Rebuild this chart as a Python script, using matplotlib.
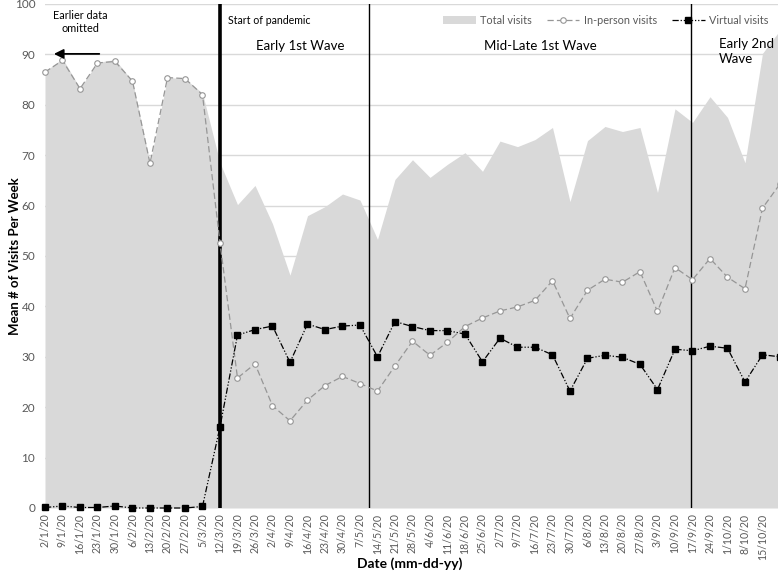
import matplotlib
matplotlib.use("Agg")
import matplotlib.pyplot as plt
import numpy as np

plt.rcParams['font.family'] = ['Lato', 'DejaVu Sans']

# weekly dates (the last week, 22/10/20, falls just past the visible edge)
dates = ["2/1/20", "9/1/20", "16/1/20", "23/1/20", "30/1/20", "6/2/20", "13/2/20",
         "20/2/20", "27/2/20", "5/3/20", "12/3/20", "19/3/20", "26/3/20", "2/4/20",
         "9/4/20", "16/4/20", "23/4/20", "30/4/20", "7/5/20", "14/5/20", "21/5/20",
         "28/5/20", "4/6/20", "11/6/20", "18/6/20", "25/6/20", "2/7/20", "9/7/20",
         "16/7/20", "23/7/20", "30/7/20", "6/8/20", "13/8/20", "20/8/20", "27/8/20",
         "3/9/20", "10/9/20", "17/9/20", "24/9/20", "1/10/20", "8/10/20", "15/10/20",
         "22/10/20"]

total = [86.6, 89.2, 83.3, 88.4, 89.0, 84.7, 68.4, 85.4, 85.2, 82.3, 68.5, 60.2,
         64.0, 56.4, 46.2, 58.0, 59.8, 62.3, 61.1, 53.3, 65.2, 69.1, 65.6, 68.2,
         70.5, 66.8, 72.8, 71.7, 73.1, 75.5, 60.8, 72.9, 75.7, 74.7, 75.5, 62.6,
         79.2, 76.5, 81.6, 77.5, 68.5, 90.2, 94.8]

in_person = [86.5, 88.8, 83.2, 88.3, 88.6, 84.7, 68.4, 85.4, 85.2, 82.0, 52.6, 25.8,
             28.6, 20.3, 17.3, 21.4, 24.3, 26.1, 24.7, 23.2, 28.2, 33.1, 30.3, 32.9,
             36.0, 37.7, 39.1, 39.9, 41.2, 45.1, 37.6, 43.2, 45.4, 44.8, 46.9, 39.0,
             47.7, 45.3, 49.5, 45.8, 43.5, 59.5, 64.3]

virtual = [0.1, 0.4, 0.1, 0.1, 0.4, 0.0, 0.0, 0.0, 0.0, 0.3, 16.1, 34.3,
           35.4, 36.1, 28.9, 36.5, 35.4, 36.1, 36.3, 30.0, 37.0, 36.0, 35.2, 35.2,
           34.5, 29.0, 33.7, 31.9, 31.9, 30.4, 23.2, 29.7, 30.3, 29.9, 28.5, 23.5,
           31.5, 31.2, 32.1, 31.7, 25.0, 30.4, 30.0]

pandemic_start = 10
phase_lines = [18.5, 36.9]

x = np.arange(len(dates))

fig = plt.figure(figsize=(7.78, 5.77), dpi=100)
ax = fig.add_axes([45 / 778, 69 / 577, 733 / 778, 504 / 577])

ax.set_axisbelow(True)
ax.yaxis.grid(True, color="#d9d9d9", linewidth=1)
ax.fill_between(x, total, 0, color="#d9d9d9", linewidth=0, zorder=1, label="Total visits")

ax.axvline(pandemic_start, color="black", linewidth=2.6, zorder=2)
for p in phase_lines:
    ax.axvline(p, color="black", linewidth=1.0, zorder=2)

ax.plot(x, in_person, color="#969696", linestyle=(0, (5, 2.5)), linewidth=0.9,
        marker="o", markersize=4, markerfacecolor="white", markeredgecolor="#969696",
        markeredgewidth=0.8, zorder=3, clip_on=False, label="In-person visits")
ax.plot(x, virtual, color="black", linestyle=(0, (5, 1.5, 1, 1.5, 1, 1.5)), linewidth=0.9,
        marker="s", markersize=4.6, markerfacecolor="black", markeredgecolor="black",
        zorder=4, clip_on=False, label="Virtual visits")

ax.set_xlim(0, 41.886)
ax.set_ylim(0, 100)
ax.set_yticks(range(0, 101, 10))
ax.set_xticks(x[:-1])
ax.set_xticklabels(dates[:-1], rotation=90)
ax.tick_params(axis="both", length=0, colors="#595959")
ax.tick_params(axis="x", pad=4, labelsize=7.6)
ax.tick_params(axis="y", pad=7, labelsize=8.5)
for s in ax.spines.values():
    s.set_visible(False)

ax.set_ylabel("Mean # of Visits Per Week", fontsize=9.5, fontweight="bold")
ax.yaxis.set_label_coords(-0.033, 0.5)
ax.set_xlabel("Date (mm-dd-yy)", fontsize=10, fontweight="bold")
ax.xaxis.set_label_coords(0.498, -0.098)

ax.text(2.0, 96.4, "Earlier data\nomitted", ha="center", va="center", fontsize=7.8)
ax.annotate("", xy=(0.35, 90.1), xytext=(3.26, 90.1),
            arrowprops=dict(arrowstyle="-|>", color="black", lw=1.3, mutation_scale=14))
ax.text(10.45, 96.8, "Start of pandemic", ha="left", va="center", fontsize=7.6)
ax.text(14.6, 91.7, "Early 1st Wave", ha="center", va="center", fontsize=9.5)
ax.text(28.3, 91.7, "Mid-Late 1st Wave", ha="center", va="center", fontsize=9.5)
ax.text(38.5, 90.6, "Early 2nd\nWave", ha="left", va="center", fontsize=9.5,
        linespacing=1.3)

ax.legend(loc="center right", bbox_to_anchor=(1.0, 0.968), ncol=3, frameon=False,
          fontsize=7.8, handlelength=3.0, columnspacing=1.4, handletextpad=0.4,
          labelcolor="#595959")

fig.savefig("out.png", dpi=100)
